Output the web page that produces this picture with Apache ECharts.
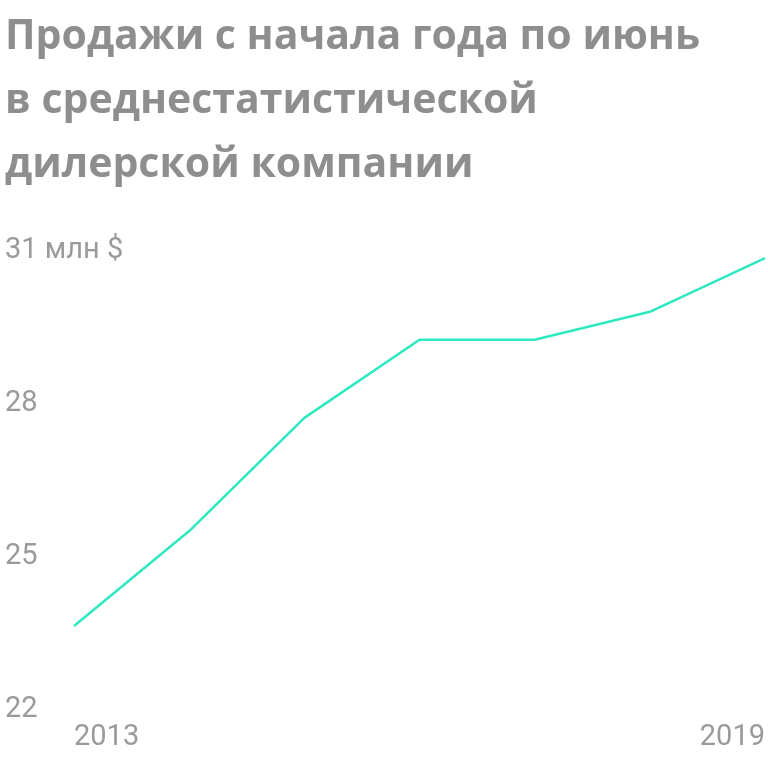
<!DOCTYPE html>
<html>
<head>
<meta charset="utf-8">
<script src="https://cdn.jsdelivr.net/npm/echarts@6/dist/echarts.min.js"></script>
<style>
html,body{margin:0;padding:0;background:#fff;}
#c{width:768px;height:757px;}
</style>
</head>
<body>
<div id="c"></div>
<script>
var titleText = 'Продажи с начала года по июнь\nв среднестатистической\nдилерской компании';
var years = ['2013','2014','2015','2016','2017','2018','2019'];
var sales = [23.57, 25.43, 27.65, 29.18, 29.18, 29.73, 30.78];
var yMin = 22, yMax = 31, yStep = 3;

var chart = echarts.init(document.getElementById('c'));
chart.setOption({
  animation: false,
  title: {
    text: titleText,
    left: 0,
    top: 0,
    textStyle: {
      fontFamily: 'Open Sans',
      fontWeight: 'bold',
      fontSize: 41,
      lineHeight: 64,
      color: '#8e8e8e'
    }
  },
  grid: { left: 74, right: 2, top: 247, bottom: 51 },
  xAxis: {
    type: 'category',
    data: years,
    boundaryGap: false,
    axisLine: { show: false },
    axisTick: { show: false },
    splitLine: { show: false },
    axisLabel: {
      interval: function (i) { return i === 0 || i === years.length - 1; },
      alignMinLabel: 'left',
      alignMaxLabel: 'right',
      margin: 17,
      fontFamily: 'Roboto',
      fontSize: 29,
      color: '#9a9a9a'
    }
  },
  yAxis: {
    type: 'value',
    min: yMin,
    max: yMax,
    interval: yStep,
    axisLine: { show: false },
    axisTick: { show: false },
    splitLine: { show: false },
    axisLabel: {
      align: 'left',
      verticalAlign: 'middle',
      margin: 69,
      fontFamily: 'Roboto',
      fontSize: 29,
      color: '#9a9a9a',
      formatter: function (v) { return '{t|' + (v === yMax ? v + ' млн $' : String(v)) + '}'; },
      rich: {
        t: {
          fontFamily: 'Roboto',
          fontSize: 29,
          color: '#9a9a9a',
          padding: [8, 0, 0, 0]
        }
      }
    }
  },
  series: [{
    type: 'line',
    data: sales,
    symbol: 'none',
    lineStyle: { color: '#2ee8c0', width: 2.5 }
  }]
});
</script>
</body>
</html>
